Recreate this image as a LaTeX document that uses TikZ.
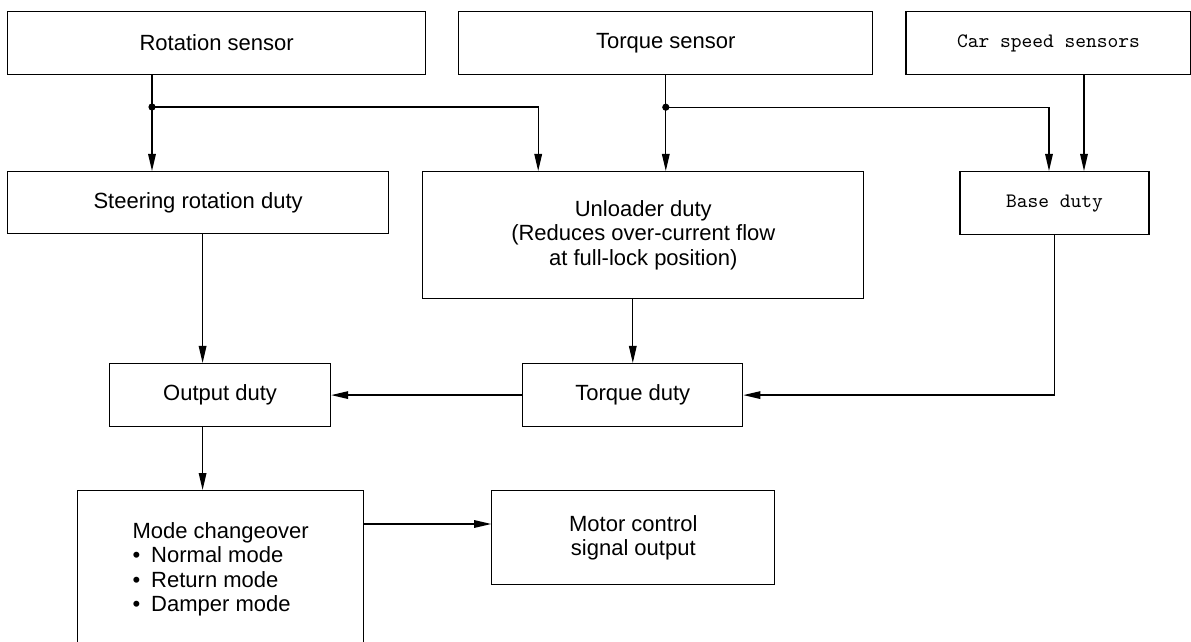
\documentclass[tikz,border=0pt]{standalone}
\usepackage{fontspec}
\setmainfont{Liberation Sans}
\usetikzlibrary{arrows.meta, positioning, calc}

\begin{document}
\begin{tikzpicture}[
  x=0.5pt, y=-0.5pt,
  node distance=16pt,
  box/.style={rectangle, draw, line width=0.6pt, inner sep=2pt, align=center, minimum height=31.5pt, font=\fontsize{11}{12.25}\selectfont},
  mbox/.style={box, font=\ttfamily\fontsize{10.25}{12}\selectfont},
  line/.style={line width=0.6pt},
  arrow/.style={line, -{Triangle[length=8.5pt, width=3.8pt]}}
]
\useasboundingbox (0,0) rectangle (1191,642);
\clip (0,0) rectangle (1191,642);

% sensors
\node[box, minimum width=209pt, anchor=north west] (rot) at (7,11) {Rotation sensor};
\node[box, minimum width=207pt, right=16pt of rot] (tor) {Torque sensor};
\node[mbox, minimum width=142.5pt, right=16pt of tor] (car) {Car speed sensors};

% duty calculation
\node[box, minimum width=190.5pt, minimum height=31pt, anchor=north west] (steer) at (7,171) {Steering rotation duty};
\node[box, minimum width=220.5pt, minimum height=63.5pt, right=16.5pt of steer.north east, anchor=north west] (unl) {Unloader duty\\(Reduces over-current flow\\at full-lock position)};
\node[mbox, minimum width=94.5pt, right=47.5pt of unl.north east, anchor=north west] (base) {Base duty};

\node[box, minimum width=110.5pt, anchor=north west] (out) at (109,363) {Output duty};
\node[box, minimum width=110pt, right=95.5pt of out] (tq) {Torque duty};

% output stage
\node[box, minimum width=143pt, minimum height=78.5pt, anchor=north west, align=left] (mode) at (77,490) {Mode changeover\\\textbullet\enspace Normal mode\\\textbullet\enspace Return mode\\\textbullet\enspace Damper mode};
\node[box, minimum width=141.5pt, minimum height=47pt, right=63.5pt of mode.north east, anchor=north west] (motor) {Motor control\\signal output};

% branch points
\coordinate (jr) at (152,107);
\coordinate (jt) at ([yshift=-16pt]tor.south);
\coordinate (cb) at ([xshift=14.75pt]base.north);
\coordinate (so) at ([xshift=2.25pt]steer.south);
\coordinate (om) at ([xshift=-8.75pt]out.south);
\coordinate (mm) at ([yshift=-17pt]mode.north east);

\draw[line] (jr |- rot.south) -- (jr);
\draw[arrow] (jr) -- (jr |- steer.north);
\draw[arrow] (jr) -| ($(unl.north west)+(116,0)$);
\fill (jr) circle (1.8pt);

\draw[line] (tor.south) -- (jt);
\draw[arrow] (jt) -- (jt |- unl.north);
\draw[arrow] (jt) -| ([xshift=-2.75pt]base.north);
\fill (jt) circle (1.8pt);
\draw[arrow] (cb |- car.south) -- (cb);

\draw[arrow] (so) -- (so |- out.north);
\draw[arrow] (unl.south -| tq.north) -- (tq.north);
\draw[arrow] (tq.west) -- (out.east);
\draw[arrow] (base.south) |- (tq.east);
\draw[arrow] (om) -- (om |- mode.north);
\draw[arrow] (mm) -- (mm -| motor.west);

\end{tikzpicture}
\end{document}
